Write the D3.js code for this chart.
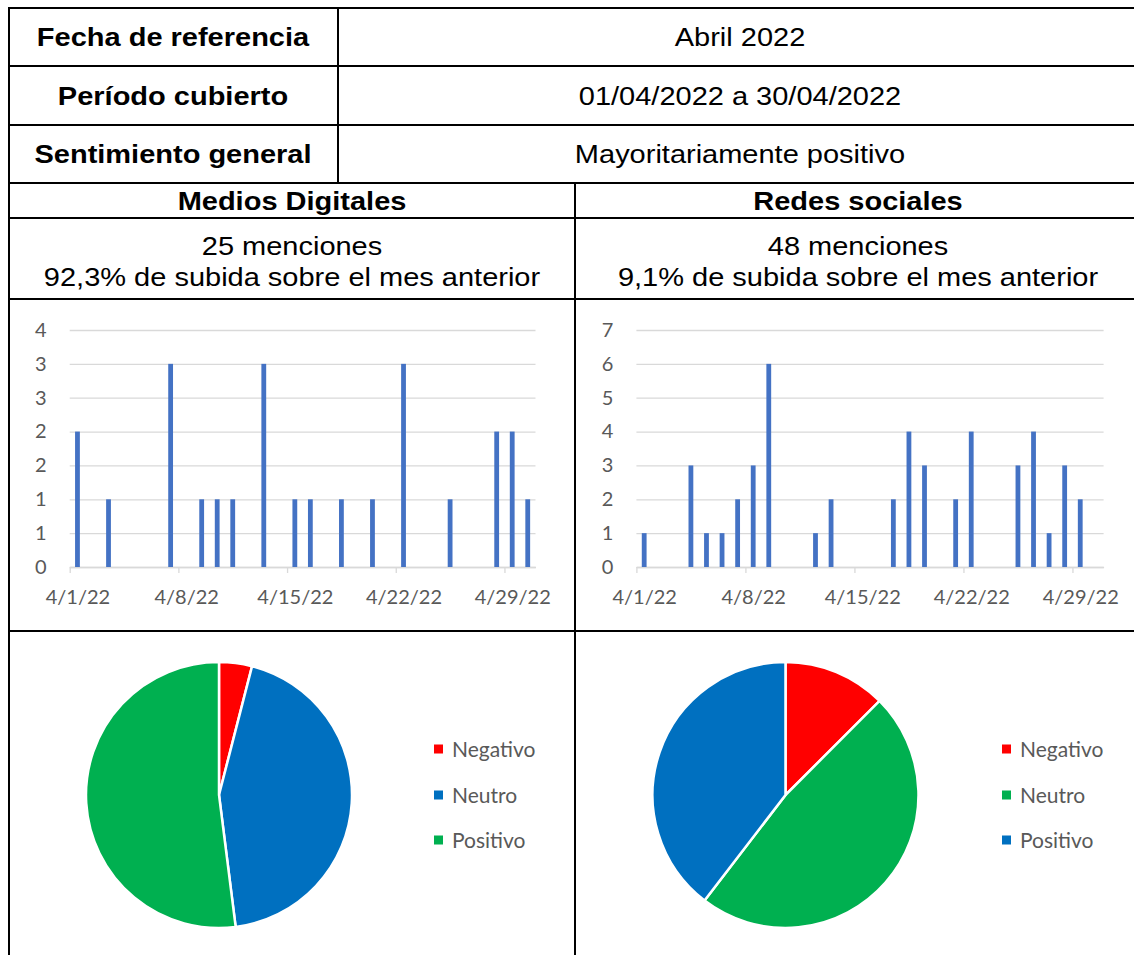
<!DOCTYPE html>
<html>
<head>
<meta charset="utf-8">
<script src="https://cdn.jsdelivr.net/npm/d3@7"></script>
<style>
	body { margin: 0; background: #fff; }
</style>
</head>
<body>
<div id="wrapper"></div>
<script>
// data
const tableLabels = ['Fecha de referencia', 'Período cubierto', 'Sentimiento general']
const tableValues = ['Abril 2022', '01/04/2022 a 30/04/2022', 'Mayoritariamente positivo']
const sectionTitles = ['Medios Digitales', 'Redes sociales']
const mentionLines = [
	['25 menciones', '92,3% de subida sobre el mes anterior'],
	['48 menciones', '9,1% de subida sobre el mes anterior']
]

const digitalDays = [1, 3, 7, 9, 10, 11, 13, 15, 16, 18, 20, 22, 25, 28, 29, 30]
const digitalCounts = [2, 1, 3, 1, 1, 1, 3, 1, 1, 1, 1, 3, 1, 2, 2, 1]
const socialDays = [1, 4, 5, 6, 7, 8, 9, 12, 13, 17, 18, 19, 21, 22, 25, 26, 27, 28, 29]
const socialCounts = [1, 3, 1, 1, 2, 3, 6, 1, 2, 2, 4, 3, 2, 4, 3, 4, 1, 3, 2]

const xTickDays = [1, 8, 15, 22, 29]
const digitalYTicks = [0, 0.5, 1, 1.5, 2, 2.5, 3, 3.5]
const digitalYLabels = ['0', '1', '1', '2', '2', '3', '3', '4']
const socialYTicks = [0, 1, 2, 3, 4, 5, 6, 7]
const socialYLabels = ['0', '1', '2', '3', '4', '5', '6', '7']

const sentimentLabels = ['Negativo', 'Neutro', 'Positivo']
const digitalSentiment = [1, 11, 13]
const socialSentiment = [6, 23, 19]
const digitalColors = ['#ff0000', '#0070c0', '#00b050']
const socialColors = ['#ff0000', '#00b050', '#0070c0']

function drawPage() {
	const width = 1134
	const height = 955

	const svg = d3.select('#wrapper')
		.append('svg')
			.attr('width', width)
			.attr('height', height)
			.style('display', 'block')

	// table grid
	const left = 9
	const right = 1142
	const rows = [8, 66, 125, 183, 218, 299, 631]
	const grid = svg.append('g')
		.attr('stroke', '#000')
		.attr('stroke-width', 2)

	rows.forEach(y => {
		grid.append('line')
			.attr('x1', left - 1).attr('x2', right)
			.attr('y1', y).attr('y2', y)
	})
	grid.append('line').attr('x1', left).attr('x2', left).attr('y1', 7).attr('y2', height)
	grid.append('line').attr('x1', 338).attr('x2', 338).attr('y1', 8).attr('y2', 183)
	grid.append('line').attr('x1', 575).attr('x2', 575).attr('y1', 183).attr('y2', height)

	// table text (the source text is a bit wider than Arial, so stretch it)
	const cellText = (x, y, txt, bold) => {
		svg.append('text')
			.attr('transform', `translate(${x},${y}) scale(1.16,1)`)
			.attr('text-anchor', 'middle')
			.attr('font-family', '"Liberation Sans", Arial, sans-serif')
			.attr('font-size', 25)
			.attr('font-weight', bold ? 'bold' : 'normal')
			.attr('fill', '#000')
			.text(txt)
	}

	const rowMid = [37, 96, 154]
	tableLabels.forEach((t, i) => cellText(173, rowMid[i] + 9, t, true))
	tableValues.forEach((t, i) => cellText(740, rowMid[i] + 9, t, false))

	const colMid = [292, 858]
	sectionTitles.forEach((t, i) => cellText(colMid[i], 201 + 9, t, true))
	mentionLines.forEach((lines, i) => {
		cellText(colMid[i], 246 + 9, lines[0], false)
		cellText(colMid[i], 277 + 9, lines[1], false)
	})

	// bar charts
	drawBars(svg, {
		left: 69.7, right: 535.5, top: 330, bottom: 567,
		days: digitalDays, counts: digitalCounts,
		yMax: 3.5, yTicks: digitalYTicks, yLabels: digitalYLabels
	})
	drawBars(svg, {
		left: 636.4, right: 1103.6, top: 330, bottom: 567,
		days: socialDays, counts: socialCounts,
		yMax: 7, yTicks: socialYTicks, yLabels: socialYLabels
	})

	// pies
	drawPie(svg, {
		cx: 219, cy: 795, r: 133, legendX: 434,
		values: digitalSentiment, colors: digitalColors
	})
	drawPie(svg, {
		cx: 785.5, cy: 795, r: 133, legendX: 1002,
		values: socialSentiment, colors: socialColors
	})
}

function drawBars(svg, o) {
	const g = svg.append('g')

	const xScale = d3.scaleTime()
		.domain([new Date(2022, 3, 1), new Date(2022, 4, 1)])
		.range([o.left, o.right])

	const yScale = d3.scaleLinear()
		.domain([0, o.yMax])
		.range([o.bottom, o.top])

	const halfDay = (xScale(new Date(2022, 3, 2)) - xScale(new Date(2022, 3, 1))) / 2

	// gridlines + y labels
	const yAxis = d3.axisLeft(yScale)
		.tickValues(o.yTicks)
		.tickSize(-(o.right - o.left))
		.tickPadding(23)
		.tickFormat((d, i) => o.yLabels[i])

	const yAxisGroup = g.append('g')
		.attr('transform', `translate(${o.left},0)`)
		.call(yAxis)
	yAxisGroup.select('.domain').remove()
	yAxisGroup.selectAll('line')
		.attr('stroke', '#d9d9d9')
		.attr('stroke-width', 1.3)
	yAxisGroup.selectAll('text')
		.attr('fill', '#595959')
		.attr('font-family', 'Lato, "Open Sans", sans-serif')
		.attr('font-size', 20)

	// x axis
	const xAxis = d3.axisBottom(xScale)
		.tickValues(xTickDays.map(d => new Date(2022, 3, d)))
		.tickSize(6)
		.tickSizeOuter(0)
		.tickPadding(17)
		.tickFormat(d3.timeFormat('%-m/%-d/%y'))

	const xAxisGroup = g.append('g')
		.attr('transform', `translate(0,${o.bottom})`)
		.call(xAxis)
	xAxisGroup.select('.domain')
		.attr('stroke', '#d9d9d9')
		.attr('stroke-width', 1.3)
	xAxisGroup.selectAll('line')
		.attr('stroke', '#d9d9d9')
		.attr('stroke-width', 1.3)
	xAxisGroup.selectAll('text')
		.attr('dx', halfDay)
		.attr('fill', '#595959')
		.attr('font-family', 'Lato, "Open Sans", sans-serif')
		.attr('font-size', 20)

	// bars
	const barWidth = 4.8
	g.append('g')
		.selectAll('rect')
		.data(o.days)
		.join('rect')
			.attr('x', d => xScale(new Date(2022, 3, d, 12)) - barWidth / 2)
			.attr('y', (d, i) => yScale(o.counts[i]))
			.attr('width', barWidth)
			.attr('height', (d, i) => yScale(0) - yScale(o.counts[i]))
			.attr('fill', '#4472c4')
}

function drawPie(svg, o) {
	const pie = d3.pie().sort(null)
	const arc = d3.arc().innerRadius(0).outerRadius(o.r)

	const g = svg.append('g')
		.attr('transform', `translate(${o.cx},${o.cy})`)

	g.selectAll('path')
		.data(pie(o.values))
		.join('path')
			.attr('d', arc)
			.attr('fill', (d, i) => o.colors[i])
			.attr('stroke', '#fff')
			.attr('stroke-width', 2.5)

	// legend
	const legend = svg.append('g')
	const legendY = [749, 795, 840]
	sentimentLabels.forEach((label, i) => {
		legend.append('rect')
			.attr('x', o.legendX)
			.attr('y', legendY[i] - 4.5)
			.attr('width', 9)
			.attr('height', 9)
			.attr('fill', o.colors[i])
		legend.append('text')
			.attr('x', o.legendX + 18)
			.attr('y', legendY[i] + 7.5)
			.attr('fill', '#595959')
			.attr('font-family', 'Lato, "Open Sans", sans-serif')
			.attr('font-size', 21)
			.text(label)
	})
}

drawPage()
</script>
</body>
</html>
